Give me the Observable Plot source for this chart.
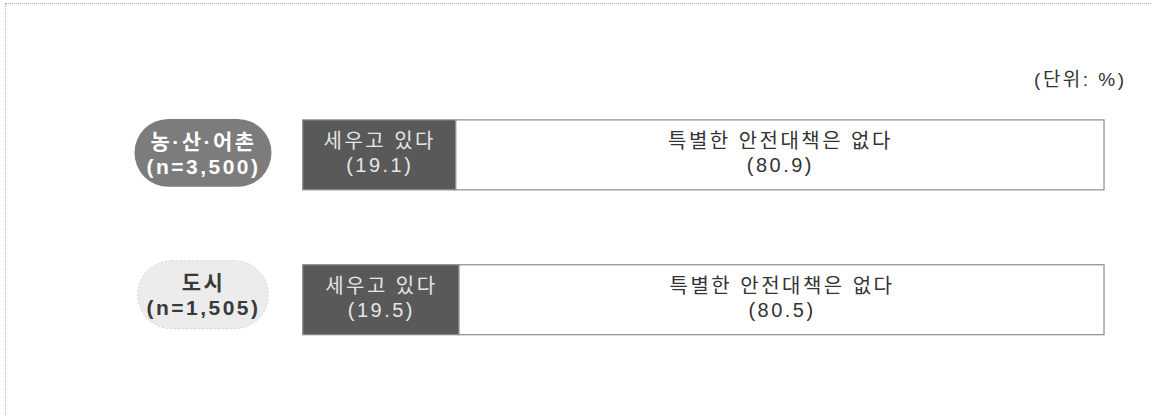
<!DOCTYPE html>
<html>
<head>
<meta charset="utf-8">
<script src="https://cdn.jsdelivr.net/npm/d3@7"></script>
<script src="https://cdn.jsdelivr.net/npm/@observablehq/plot@0.6"></script>
<style>
  html, body { margin: 0; padding: 0; background: #fff; overflow: hidden; }
  #chart { width: 1152px; height: 416px; position: relative; box-sizing: border-box;
           border-top: 1px dotted #b0b0b0; border-left: 1px dotted #b0b0b0; margin-left: 5px; margin-top: 3px; }
  #chart svg { position: absolute; left: -6px; top: -4px; }
  #chart svg text { letter-spacing: 2.5px; }
</style>
</head>
<body>
<div id="chart"></div>
<script>
// ---- data ----
const categories = ["농·산·어촌", "도시"];
const sampleSizes = ["n=3,500", "n=1,505"];
const seriesLabels = ["세우고 있다", "특별한 안전대책은 없다"];
const yesValues = [19.1, 19.5];
const noValues = [80.9, 80.5];
const unitLabel = "(단위: %)";

// ---- table built from arrays ----
const rows = [];
categories.forEach((c, i) => {
  rows.push({category: c, series: seriesLabels[0], value: yesValues[i]});
  rows.push({category: c, series: seriesLabels[1], value: noValues[i]});
});
const pills = categories.map((c, i) => ({category: c, label: `${c}\n(${sampleSizes[i]})`}));

const font = "'Liberation Sans', 'Noto Sans CJK KR', sans-serif";
const stack = (opts) => Plot.stackX({x: "value", y: "category", order: null, ...opts});
const segLabel = (s) => (d) => d.series === s ? `${d.series}\n(${d.value})` : null;

const chart = Plot.plot({
  width: 1152,
  height: 416,
  marginLeft: 303,
  marginRight: 47,
  marginTop: 45,
  marginBottom: 6,
  style: {fontFamily: font, background: "transparent"},
  x: {domain: [0, 100], axis: null},
  y: {domain: categories, axis: null, padding: 0.517},
  color: {domain: seriesLabels, range: ["#595959", "#ffffff"]},
  marks: [
    // category pills
    Plot.barX(pills.slice(0, 1), {y: "category", x1: -21, x2: -3.9, rx: 34, fill: "#7c7c7c", insetTop: -1, insetBottom: 3}),
    Plot.barX(pills.slice(1), {y: "category", x1: -20.6, x2: -4.3, rx: 34, fill: "#ececec", stroke: "#cfcfcf", strokeDasharray: "2,2", insetTop: -4, insetBottom: 6}),
    Plot.text(pills.slice(0, 1), {y: "category", x: -12.45, text: "label", fill: "#ffffff", fontSize: 21, fontWeight: "bold", lineHeight: 1.2, dy: -2}),
    Plot.text(pills.slice(1), {y: "category", x: -12.45, text: "label", fill: "#3a3a3a", fontSize: 21, fontWeight: "bold", lineHeight: 1.2, dy: -6}),
    // stacked bars
    Plot.barX(rows, stack({fill: "series", stroke: "#8c8c8c", strokeWidth: 1.2})),
    Plot.text(rows, stack({text: segLabel(seriesLabels[0]), fill: "#e6e6e6", fontSize: 20, lineHeight: 1.2, dy: -3})),
    Plot.text(rows, stack({text: segLabel(seriesLabels[1]), fill: "#333333", fontSize: 20, lineHeight: 1.2, dy: -3})),
    // unit label
    Plot.text([unitLabel], {frameAnchor: "top-right", text: d => d, fontSize: 19, fill: "#333333", dx: 22, dy: 27, textAnchor: "end"})
  ]
});
document.getElementById("chart").append(chart);
</script>
</body>
</html>
